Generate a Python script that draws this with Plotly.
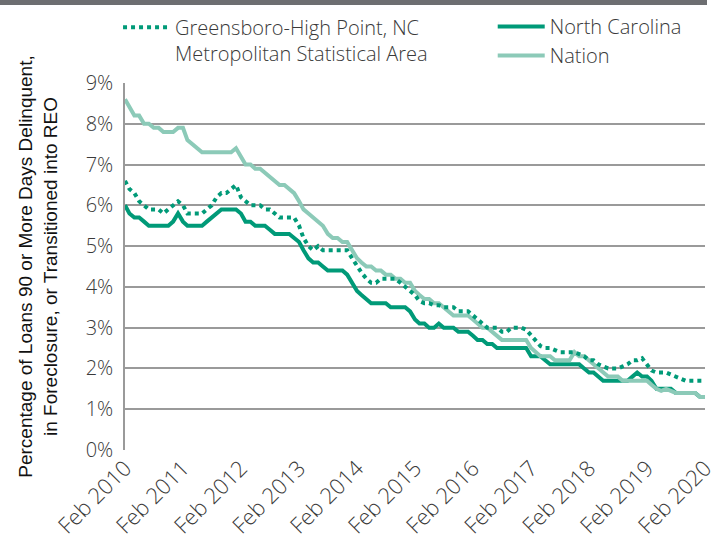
import plotly.graph_objects as go
import pandas as pd

months = pd.date_range("2010-02-01", "2020-02-01", freq="MS").strftime("%Y-%m-%d").tolist()

nation = [8.6, 8.4, 8.2, 8.2, 8.0, 8.0, 7.9, 7.9, 7.8, 7.8, 7.8, 7.9, 7.9, 7.6, 7.5, 7.4, 7.3, 7.3, 7.3, 7.3,
          7.3, 7.3, 7.3, 7.4, 7.2, 7.0, 7.0, 6.9, 6.9, 6.8, 6.7, 6.6, 6.5, 6.5, 6.4, 6.3, 6.1, 5.9, 5.8, 5.7,
          5.6, 5.5, 5.3, 5.2, 5.2, 5.1, 5.1, 4.9, 4.7, 4.6, 4.5, 4.5, 4.4, 4.4, 4.3, 4.3, 4.2, 4.2, 4.1, 4.1,
          3.9, 3.8, 3.7, 3.7, 3.6, 3.6, 3.5, 3.4, 3.3, 3.3, 3.3, 3.3, 3.2, 3.1, 3.0, 3.0, 2.9, 2.8, 2.7, 2.7,
          2.7, 2.7, 2.7, 2.7, 2.5, 2.4, 2.3, 2.3, 2.3, 2.2, 2.2, 2.2, 2.2, 2.4, 2.3, 2.3, 2.2, 2.1, 2.0, 1.9,
          1.8, 1.8, 1.8, 1.7, 1.7, 1.7, 1.7, 1.7, 1.7, 1.6, 1.5, 1.45, 1.5, 1.45, 1.4, 1.4, 1.4, 1.4, 1.4, 1.3,
          1.3]

north_carolina = [6.0, 5.8, 5.7, 5.7, 5.6, 5.5, 5.5, 5.5, 5.5, 5.5, 5.6, 5.8, 5.6, 5.5, 5.5, 5.5, 5.5, 5.6, 5.7, 5.8,
                  5.9, 5.9, 5.9, 5.9, 5.8, 5.6, 5.6, 5.5, 5.5, 5.5, 5.4, 5.3, 5.3, 5.3, 5.3, 5.2, 5.1, 4.9, 4.7, 4.6,
                  4.6, 4.5, 4.4, 4.4, 4.4, 4.4, 4.3, 4.1, 3.9, 3.8, 3.7, 3.6, 3.6, 3.6, 3.6, 3.5, 3.5, 3.5, 3.5, 3.4,
                  3.2, 3.1, 3.1, 3.0, 3.0, 3.1, 3.0, 3.0, 3.0, 2.9, 2.9, 2.9, 2.8, 2.7, 2.7, 2.6, 2.6, 2.5, 2.5, 2.5,
                  2.5, 2.5, 2.5, 2.5, 2.3, 2.3, 2.3, 2.2, 2.1, 2.1, 2.1, 2.1, 2.1, 2.1, 2.1, 2.0, 1.9, 1.9, 1.8, 1.7,
                  1.7, 1.7, 1.7, 1.7, 1.7, 1.8, 1.9, 1.8, 1.8, 1.7, 1.5, 1.5, 1.5, 1.5, 1.4, 1.4, 1.4, 1.4, 1.4, 1.3,
                  1.3]

greensboro = [6.6, 6.4, 6.3, 6.1, 6.0, 5.9, 5.9, 5.9, 5.8, 5.9, 6.0, 6.1, 6.0, 5.8, 5.8, 5.8, 5.8, 5.9, 6.0, 6.2,
              6.3, 6.3, 6.4, 6.5, 6.2, 6.1, 6.0, 6.0, 6.0, 5.9, 5.9, 5.8, 5.7, 5.7, 5.7, 5.7, 5.5, 5.2, 5.0, 4.9,
              5.0, 4.9, 4.9, 4.9, 4.9, 4.9, 4.9, 4.7, 4.5, 4.35, 4.2, 4.1, 4.1, 4.2, 4.2, 4.2, 4.2, 4.1, 4.0, 3.9,
              3.8, 3.65, 3.6, 3.6, 3.55, 3.55, 3.5, 3.5, 3.5, 3.4, 3.4, 3.4, 3.3, 3.2, 3.1, 3.0, 3.0, 3.0, 2.9, 2.9,
              3.0, 3.0, 3.0, 2.95, 2.8, 2.7, 2.55, 2.5, 2.5, 2.45, 2.4, 2.4, 2.4, 2.4, 2.35, 2.3, 2.2, 2.2, 2.1, 2.05,
              2.0, 2.0, 2.0, 2.05, 2.1, 2.2, 2.2, 2.25, 2.1, 1.95, 1.9, 1.9, 1.9, 1.85, 1.8, 1.75, 1.7, 1.7, 1.7, 1.7,
              1.7]

tick_dates = pd.date_range("2010-02-01", "2020-02-01", freq="12MS").strftime("%Y-%m-%d").tolist()
tick_labels = [f"Feb {y}" for y in range(2010, 2021)]
y_ticks = list(range(0, 10))
y_labels = [f"{v}%" for v in y_ticks]

DARK = "#009a78"
LIGHT = "#8ccab8"
FONT = "Open Sans"
TXT = "#3a3a3a"

fig = go.Figure()
fig.add_trace(go.Scatter(x=months, y=north_carolina, name="North Carolina", mode="lines", showlegend=True,
                         line=dict(color=DARK, width=4), legend="legend2"))
fig.add_trace(go.Scatter(x=months, y=nation, name="Nation", mode="lines", showlegend=True,
                         line=dict(color=LIGHT, width=4), legend="legend2"))
fig.add_trace(go.Scatter(x=months, y=greensboro, name="Greensboro-High Point, NC<br>Metropolitan Statistical Area",
                         mode="lines", showlegend=True, line=dict(color=DARK, width=4, dash="dot"), legend="legend"))

fig.update_layout(
    width=722, height=545,
    margin=dict(l=125, r=17, t=83, b=95, autoexpand=False),
    plot_bgcolor="white", paper_bgcolor="white",
    showlegend=True,
    font=dict(family=FONT, color=TXT, size=18, weight=300),
    legend=dict(x=-0.012, y=1.205, xanchor="left", yanchor="top", bgcolor="rgba(0,0,0,0)", valign="top",
                font=dict(size=20, color=TXT, family=FONT, weight=300), itemwidth=47, tracegroupgap=0),
    legend2=dict(x=0.634, y=1.207, xanchor="left", yanchor="top", bgcolor="rgba(0,0,0,0)",
                 font=dict(size=20, color=TXT, family=FONT, weight=300), itemwidth=47, tracegroupgap=0),
    shapes=[dict(type="rect", xref="paper", yref="paper", x0=-125/580, x1=(707-125)/580,
                 y0=445/367, y1=452/367, fillcolor="#6d6e71", line=dict(width=0), layer="above")],
)
fig.update_xaxes(range=[months[0], months[-1]], tickvals=tick_dates, ticktext=tick_labels, tickangle=-45,
                 showgrid=False, showline=False, zeroline=False, ticks="", automargin=False,
                 tickfont=dict(size=22, color=TXT, family=FONT, weight=300))
fig.update_yaxes(range=[0, 9], tickvals=y_ticks, ticktext=y_labels, showgrid=True, gridcolor="#9a9a9a",
                 gridwidth=1.5, showline=True, linecolor="#9a9a9a", linewidth=1.5, zeroline=False, ticks="",
                 automargin=False, ticklabelstandoff=6,
                 tickfont=dict(size=20, color=TXT, family=FONT, weight=300),
                 title=dict(text="Percentage of Loans 90 or More Days Delinquent,<br>in Foreclosure, or Transitioned into REO",
                            font=dict(size=19, color="#111111", family="Liberation Sans", weight=400), standoff=23))
fig.write_html("out.html", config={"displayModeBar": False}, post_script="document.body.style.margin='0';")
